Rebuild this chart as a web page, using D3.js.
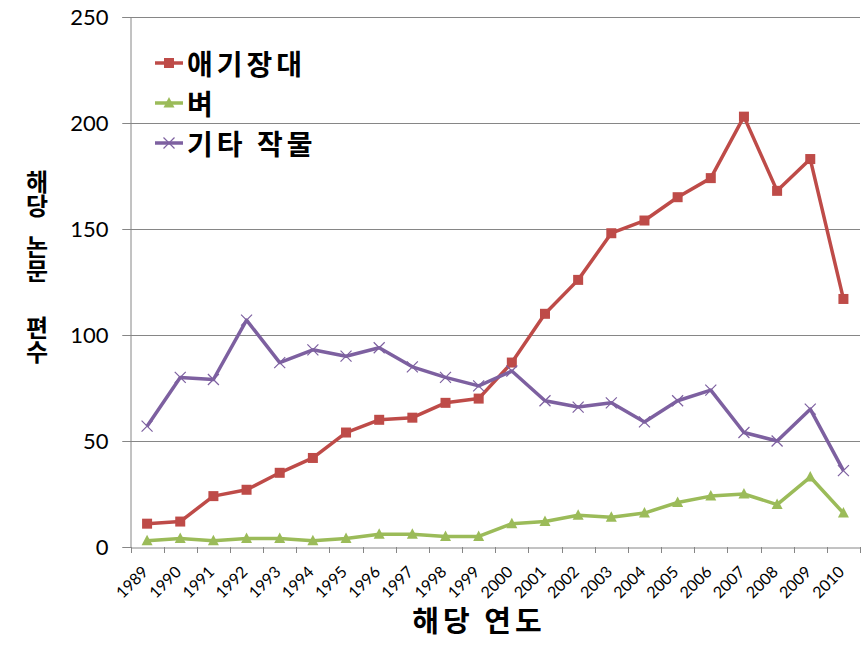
<!DOCTYPE html>
<html><head><meta charset="utf-8">
<script src="https://cdn.jsdelivr.net/npm/d3@7"></script>
<style>body{margin:0;background:#fff}</style></head>
<body>
<svg id="chart" width="864" height="658"></svg>
<script>
const years = ["1989","1990","1991","1992","1993","1994","1995","1996","1997","1998","1999","2000","2001","2002","2003","2004","2005","2006","2007","2008","2009","2010"];
const arabidopsis = [11,12,24,27,35,42,54,60,61,68,70,87,110,126,148,154,165,174,203,168,183,117];
const rice = [3,4,3,4,4,3,4,6,6,5,5,11,12,15,14,16,21,24,25,20,33,16];
const otherCrops = [57,80,79,107,87,93,90,94,85,80,76,83,69,66,68,59,69,74,54,50,65,36];
const seriesNames = ["애기장대","벼","기타 작물"];
const yTicks = [0,50,100,150,200,250];
const yTitleWords = ["해당","논문","편수"];
const xTitle = "해당 연도";

const series = [
  {name: seriesNames[0], values: arabidopsis, color: "#BE4B48", marker: "square"},
  {name: seriesNames[1], values: rice, color: "#9BBB59", marker: "triangle"},
  {name: seriesNames[2], values: otherCrops, color: "#7D60A0", marker: "x"}
];

const svg = d3.select("#chart");
const pLeft = 130.5, pRight = 860, pTop = 17, pBottom = 547;
const x = d3.scaleBand().domain(years).range([pLeft, pRight]).padding(0);
const y = d3.scaleLinear().domain([0, 250]).range([pBottom, pTop]);
const cx = d => x(d) + x.bandwidth() / 2;

// gridlines
svg.append("g").selectAll("line").data(yTicks.filter(t => t > 0)).join("line")
  .attr("x1", pLeft - 8).attr("x2", pRight)
  .attr("y1", d => Math.round(y(d)) + 0.5).attr("y2", d => Math.round(y(d)) + 0.5)
  .attr("stroke", "#868686").attr("stroke-width", 1);

// y axis
const yAxis = svg.append("g").attr("transform", `translate(${pLeft},0)`)
  .call(d3.axisLeft(y).tickValues(yTicks).tickSize(8).tickPadding(14).tickFormat(d3.format("d")));
yAxis.select(".domain").attr("stroke", "#868686");
yAxis.selectAll(".tick line").attr("stroke", "#868686");
yAxis.selectAll("text").attr("font-family", "Lato, 'Liberation Sans', sans-serif").attr("font-size", 22).attr("fill", "#000");

// x axis
const xAxis = svg.append("g").attr("transform", `translate(0,${pBottom + 0.5})`)
  .call(d3.axisBottom(x).tickSize(0).tickFormat(""));
xAxis.select(".domain").attr("stroke", "#868686");
const boundaries = years.map(d => x(d)).concat([pRight]);
svg.append("g").selectAll("line").data(boundaries).join("line")
  .attr("x1", d => Math.round(d) + 0.5).attr("x2", d => Math.round(d) + 0.5)
  .attr("y1", pBottom).attr("y2", pBottom + 6)
  .attr("stroke", "#868686");
svg.append("g").selectAll("text").data(years).join("text")
  .attr("transform", d => `translate(${cx(d) + 2},${pBottom + 26}) rotate(-45)`)
  .attr("text-anchor", "end")
  .attr("font-family", "Lato, 'Liberation Sans', sans-serif").attr("font-size", 16)
  .attr("fill", "#000").text(d => d);

// markers
function drawMarker(g, type, color) {
  if (type === "square") {
    g.append("rect").attr("x", -5).attr("y", -5).attr("width", 10).attr("height", 10).attr("fill", color);
  } else if (type === "triangle") {
    g.append("path").attr("d", "M0,-6L5.5,4.5L-5.5,4.5Z").attr("fill", color);
  } else {
    g.append("path").attr("d", "M-5.5,-5.5L5.5,5.5M-5.5,5.5L5.5,-5.5").attr("stroke", color).attr("stroke-width", 1.2).attr("fill", "none");
  }
}

const line = d3.line().x((d, i) => cx(years[i])).y(d => y(d));
series.forEach(s => {
  const g = svg.append("g");
  g.append("path").attr("d", line(s.values)).attr("fill", "none")
    .attr("stroke", s.color).attr("stroke-width", 3.5).attr("stroke-linejoin", "round");
  s.values.forEach((v, i) => {
    const m = g.append("g").attr("transform", `translate(${cx(years[i])},${y(v)})`);
    drawMarker(m, s.marker, s.color);
  });
});

// legend
const legend = svg.append("g");
series.forEach((s, i) => {
  const ly = 63 + i * 40;
  legend.append("line").attr("x1", 155).attr("x2", 183).attr("y1", ly).attr("y2", ly)
    .attr("stroke", s.color).attr("stroke-width", 3.5);
  const m = legend.append("g").attr("transform", `translate(169,${ly})`);
  drawMarker(m, s.marker, s.color);
  legend.append("text").attr("x", 187).attr("y", ly + 12)
    .attr("font-family", "'Noto Sans CJK KR', sans-serif").attr("font-weight", 700)
    .attr("font-size", 28).attr("letter-spacing", 4).attr("fill", "#000").text(s.name);
});

// y title (vertical, stacked)
const yTitleTops = [170, 235, 316];
svg.append("g").selectAll("text").data(yTitleWords).join("text")
  .attr("x", 37).attr("y", (d, i) => yTitleTops[i])
  .style("writing-mode", "vertical-rl").style("text-orientation", "upright")
  .attr("font-family", "'Noto Sans CJK KR', sans-serif").attr("font-weight", 700)
  .attr("font-size", 24).attr("fill", "#000").text(d => d);

// x title
svg.append("text").attr("x", 479).attr("y", 632).attr("text-anchor", "middle")
  .attr("font-family", "'Noto Sans CJK KR', sans-serif").attr("font-weight", 700)
  .attr("font-size", 29).attr("letter-spacing", 4).attr("fill", "#000").text(xTitle);
</script>
</body></html>
